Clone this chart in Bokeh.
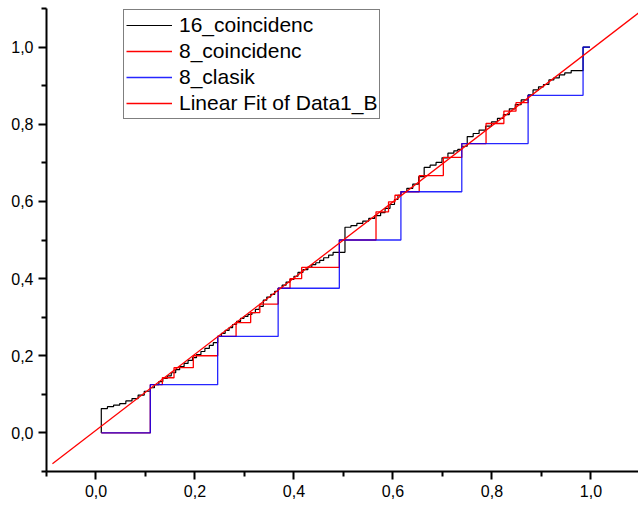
from bokeh.plotting import figure
from bokeh.models import Range1d, FixedTicker, CustomJSTickFormatter, Legend, LegendItem
from bokeh.embed import file_html
from bokeh.resources import INLINE

# ---- data ----
# 16_coincidenc (fine steps)
c16_x = [0.0107, 0.0107, 0.0231, 0.0355, 0.0479, 0.0603, 0.0727, 0.0851, 0.0975,
         0.1097, 0.118, 0.127, 0.135, 0.144, 0.152, 0.161, 0.169, 0.178, 0.186, 0.195, 0.203, 0.212, 0.220, 0.229, 0.237,
         0.2458, 0.2535, 0.261, 0.269, 0.276, 0.284, 0.292, 0.299, 0.307, 0.315, 0.322, 0.330, 0.338, 0.345, 0.353, 0.361,
         0.368, 0.376, 0.384, 0.392, 0.400, 0.408, 0.418, 0.428, 0.436, 0.444, 0.452, 0.460, 0.470, 0.479,
         0.503, 0.515, 0.527, 0.539, 0.551, 0.563, 0.575, 0.584, 0.594, 0.603, 0.610,
         0.616, 0.628, 0.640, 0.652, 0.663, 0.675, 0.687, 0.699, 0.711, 0.723, 0.731,
         0.739, 0.750, 0.762, 0.774, 0.787, 0.799, 0.811, 0.823, 0.835, 0.847, 0.859,
         0.873, 0.883, 0.894, 0.904, 0.915, 0.925, 0.936, 0.947, 0.960, 0.984, 0.998]
c16_y = [0.0, 0.063, 0.068, 0.072, 0.076, 0.083, 0.089, 0.098, 0.108,
         0.117, 0.125, 0.133, 0.141, 0.148, 0.156, 0.164, 0.172, 0.180, 0.188, 0.195, 0.203, 0.211, 0.219, 0.227, 0.234,
         0.250, 0.258, 0.266, 0.273, 0.281, 0.289, 0.297, 0.302, 0.307, 0.312, 0.320, 0.328, 0.344, 0.352, 0.359, 0.367,
         0.375, 0.383, 0.391, 0.398, 0.406, 0.416, 0.423, 0.430, 0.436, 0.441, 0.447, 0.454, 0.461, 0.468,
         0.533, 0.537, 0.543, 0.549, 0.556, 0.563, 0.571, 0.582, 0.592, 0.605, 0.616,
         0.625, 0.634, 0.645, 0.664, 0.688, 0.694, 0.701, 0.713, 0.725, 0.731, 0.735,
         0.743, 0.768, 0.776, 0.785, 0.795, 0.806, 0.815, 0.825, 0.840, 0.851, 0.863,
         0.876, 0.889, 0.897, 0.903, 0.915, 0.920, 0.928, 0.933, 0.939, 1.0, 1.0]

# 8_coincidenc
c8_x = [0.0107, 0.1097, 0.134, 0.1576, 0.1966, 0.2458, 0.283, 0.3125, 0.331, 0.368, 0.392, 0.4155,
        0.4916, 0.5657, 0.591, 0.604, 0.616, 0.653, 0.7017, 0.739, 0.788, 0.824, 0.8485, 0.873]
c8_y = [0.0, 0.125, 0.143, 0.169, 0.200, 0.250, 0.286, 0.312, 0.334, 0.375, 0.400, 0.429,
        0.500, 0.573, 0.599, 0.616, 0.625, 0.667, 0.714, 0.750, 0.802, 0.834, 0.856, 0.875]

# 8_clasik
cl_x = [0.0107, 0.1097, 0.2458, 0.368, 0.4916, 0.616, 0.739, 0.873, 0.984, 0.998]
cl_y = [0.0, 0.125, 0.250, 0.375, 0.500, 0.625, 0.750, 0.875, 1.0, 1.0]

# Linear fit of Data1_B
fit_x = [-0.088, 1.12]
fit_y = [-0.080, 1.112]

x_major = [0.0, 0.2, 0.4, 0.6, 0.8, 1.0]
x_minor = [-0.1, 0.1, 0.3, 0.5, 0.7, 0.9, 1.1]
y_major = [0.0, 0.2, 0.4, 0.6, 0.8, 1.0]
y_minor = [-0.1, 0.1, 0.3, 0.5, 0.7, 0.9, 1.1]

names = ["16_coincidenc", "8_coincidenc", "8_clasik", "Linear Fit of Data1_B"]

FONT = "Liberation Sans"

p = figure(width=638, height=506, output_backend="svg", toolbar_location=None,
           x_range=Range1d(-0.1, 1.096), y_range=Range1d(-0.1, 1.1),
           min_border_left=46, min_border_right=0, min_border_top=8, min_border_bottom=35)
p.outline_line_color = None
p.xgrid.visible = False
p.ygrid.visible = False
p.background_fill_color = "white"

r16 = p.step(c16_x, c16_y, mode="after", line_color="#000000", line_width=1.2)
r8 = p.step(c8_x, c8_y, mode="after", line_color="#ff0000", line_width=1.3)
rcl = p.step(cl_x, cl_y, mode="after", line_color="#0000ff", line_width=1.3, line_alpha=0.85)
rfit = p.segment(x0=fit_x[:1], y0=fit_y[:1], x1=fit_x[1:], y1=fit_y[1:],
                 line_color="#ff0000", line_width=1.3)

fmt = CustomJSTickFormatter(code="return tick.toFixed(1).replace('.', ',');")
for ax, maj, mnr in ((p.xaxis[0], x_major, x_minor), (p.yaxis[0], y_major, y_minor)):
    ax.ticker = FixedTicker(ticks=maj, minor_ticks=mnr)
    ax.formatter = fmt
    ax.axis_line_width = 2
    ax.axis_line_color = "black"
    ax.major_tick_line_width = 2
    ax.minor_tick_line_width = 2
    ax.major_tick_out = 8
    ax.major_tick_in = 0
    ax.minor_tick_out = 5
    ax.minor_tick_in = 0
    ax.major_label_text_font = FONT
    ax.major_label_text_font_size = "16px"
    ax.major_label_text_color = "black"
    ax.major_label_standoff = 5

legend = Legend(items=[LegendItem(label=names[0], renderers=[r16]),
                       LegendItem(label=names[1], renderers=[r8]),
                       LegendItem(label=names[2], renderers=[rcl]),
                       LegendItem(label=names[3], renderers=[rfit])],
                location=(77, 352))
legend.label_text_font = FONT
legend.label_text_font_size = "21px"
legend.label_text_color = "black"
legend.glyph_height = 26
legend.label_height = 26
legend.glyph_width = 46
legend.label_standoff = 7
legend.spacing = 0
legend.padding = 2
legend.margin = 0
legend.border_line_color = "black"
legend.border_line_width = 1
legend.background_fill_alpha = 1.0
p.add_layout(legend, "center")

open("out.html", "w").write(file_html(p, INLINE))
